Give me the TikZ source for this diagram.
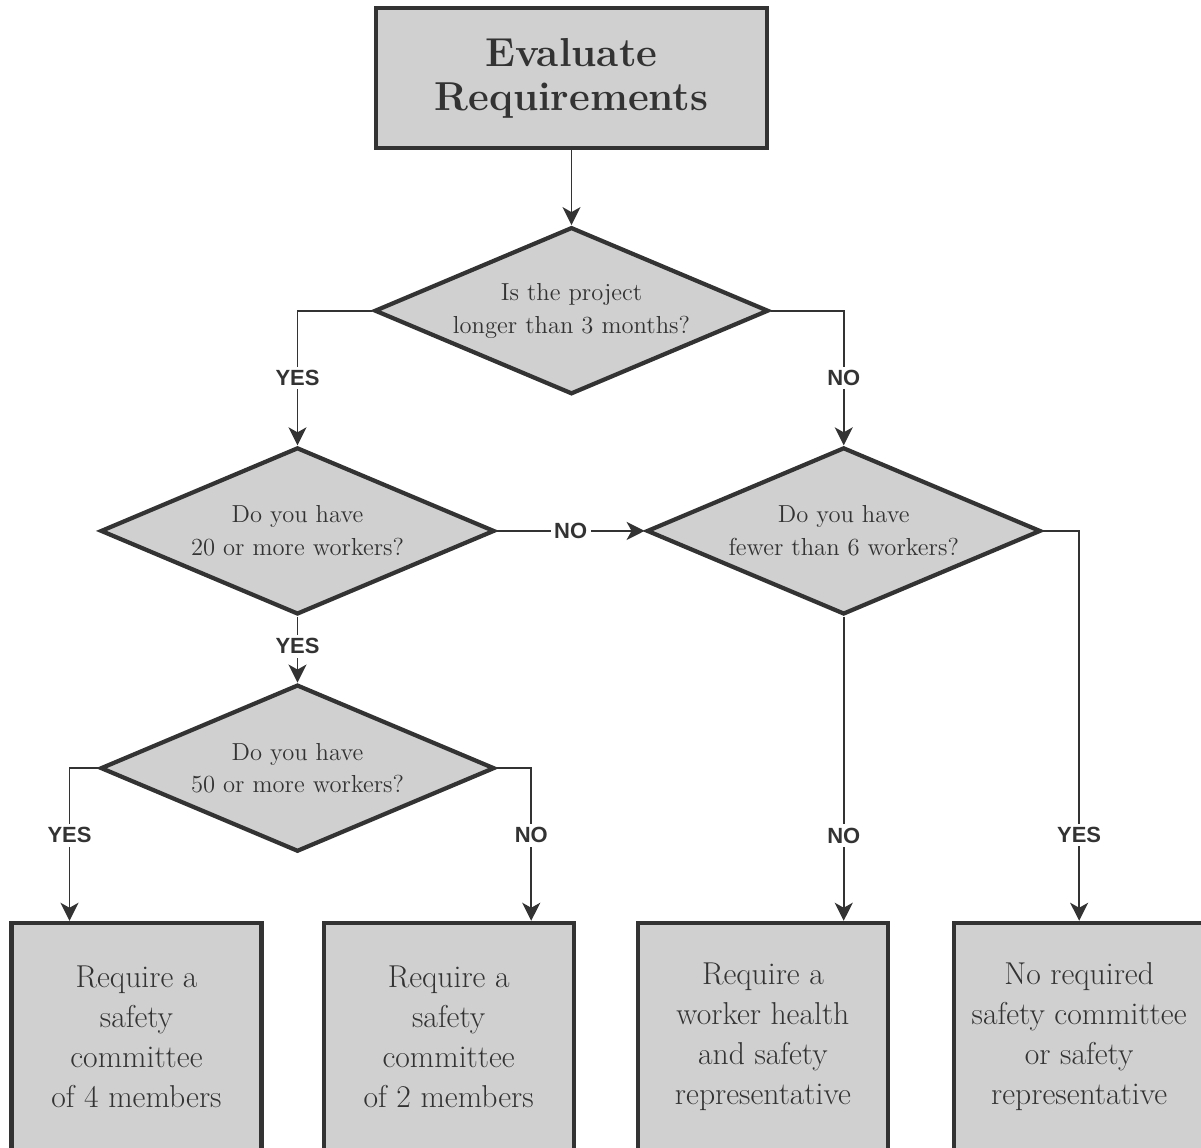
\documentclass[tikz,border=0pt]{standalone}
\usepackage{fontspec}
\newfontfamily\labelfont{Liberation Sans}
\usetikzlibrary{positioning,shapes.geometric,arrows.meta}
\definecolor{ink}{HTML}{333333}
\definecolor{boxfill}{HTML}{D0D0D0}

\begin{document}
\begin{tikzpicture}[
    node distance=1cm,  % base distance, overridden below
    line/.style = {draw=ink, line width=1.1pt},
    arrow/.style = {line, -{Stealth[length=3.6mm, width=3.6mm, inset=1mm]}},
    title/.style = {draw=ink, line width=2.4pt, fill=boxfill, text=ink, minimum width=7.82cm, minimum height=2.8cm, align=center, font=\fontsize{23}{25}\selectfont\bfseries},
    decision/.style = {diamond, draw=ink, line width=2.4pt, fill=boxfill, text=ink, inner sep=0pt, shape aspect=2.35, minimum width=7.88cm, minimum height=3.34cm, align=center, font=\fontsize{14}{18.7}\selectfont},
    outcome/.style = {draw=ink, line width=2.4pt, fill=boxfill, text=ink, minimum width=5cm, minimum height=4.56cm, align=center, font=\fontsize{18}{22.7}\selectfont},
    answer/.style = {fill=white, text=ink, inner sep=2pt, font=\labelfont\bfseries\fontsize{12.5}{14}\selectfont}
  ]
    \useasboundingbox (0,0) rectangle (24.02,-22.96);

    \node[title] (eval) at (11.43,-1.56) {Evaluate\\Requirements};
    \node[decision, below=1.5cm of eval] (longer) {Is the project\\longer than 3 months?};
    \node[decision, below=0.98cm of longer, xshift=-5.48cm] (twenty) {Do you have\\20 or more workers?};   % left branch
    \node[decision, right=2.96cm of twenty] (fewer) {Do you have\\fewer than 6 workers?};
    \node[decision, below=1.32cm of twenty] (fifty) {Do you have\\50 or more workers?};
    % bottom row of outcomes
    \node[outcome, below=1.34cm of fifty, xshift=-3.22cm] (four) {Require a\\safety\\committee\\of 4 members};
    \node[outcome, right=1.16cm of four] (two) {Require a\\safety\\committee\\of 2 members};
    \node[outcome, right=1.2cm of two] (rep) {Require a\\worker health\\and safety\\representative};
    \node[outcome, right=1.24cm of rep] (none) {No required\\safety committee\\or safety\\representative};

    \draw[arrow] (eval) -- (longer);
    \draw[arrow] (longer.west) -| node[answer, pos=0.75] {YES} (twenty.north);
    \draw[arrow] (longer.east) -| node[answer, pos=0.75] {NO} (fewer.north);
    \draw[arrow] (twenty.east) -- node[answer] {NO} (fewer.west);
    \draw[arrow] (twenty.south) -- node[answer, pos=0.45] {YES} (fifty.north);
    \draw[arrow] (fifty.west) -| node[answer, pos=0.72] {YES} ([xshift=-1.34cm]four.north);
    \draw[arrow] (fifty.east) -| node[answer, pos=0.72] {NO} ([xshift=1.65cm]two.north);
    \draw[arrow] (fewer.south) -- node[answer, pos=0.72] {NO} (fewer.south |- rep.north);
    \draw[arrow] (fewer.east) -| node[answer, pos=0.89] {YES} (none.north);
  \end{tikzpicture}
\end{document}
